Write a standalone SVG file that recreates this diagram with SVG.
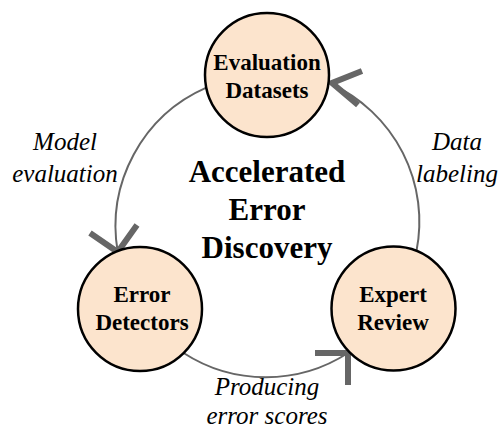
<svg xmlns="http://www.w3.org/2000/svg" width="500" height="428" viewBox="0 0 500 428">
<style>
.node circle{fill:#fce4cd;stroke:#000;stroke-width:2.5}
text{font-family:"Liberation Serif","Times New Roman",serif;fill:#000;text-anchor:middle}
.lbl{font-weight:bold;font-size:23px}
.title{font-weight:bold;font-size:31px}
.edge{font-style:italic;font-size:25px}
.arc{fill:none;stroke:#666;stroke-width:2}
.head{fill:none;stroke:#666;stroke-width:6;stroke-linejoin:miter;stroke-linecap:butt}
</style>
<rect width="500" height="428" fill="#fff"/>
<g id="connectors">
<path class="arc" d="M206.3,87.7 A151.5,151.5 0 0 0 117.7,251.9"/>
<polyline class="head" points="90,233 117.7,252 137,225"/>
<path class="arc" d="M183.6,353 A151.5,151.5 0 0 0 348,353"/>
<polyline class="head" points="315,353 348,353 348,385"/>
<path class="arc" d="M416.4,251.5 A151.5,151.5 0 0 0 331,84"/>
<polyline class="head" points="362,71 332,83 358,105"/>
</g>
<g id="evaluation-datasets" class="node">
<circle cx="267" cy="75" r="62"/>
<text class="lbl" x="267" y="70">Evaluation</text>
<text class="lbl" x="267" y="98">Datasets</text>
</g>
<g id="error-detectors" class="node">
<circle cx="140" cy="309" r="62"/>
<text class="lbl" x="142" y="302">Error</text>
<text class="lbl" x="142" y="330">Detectors</text>
</g>
<g id="expert-review" class="node">
<circle cx="393.5" cy="308.5" r="62"/>
<text class="lbl" x="393" y="302">Expert</text>
<text class="lbl" x="393" y="330">Review</text>
</g>
<g id="title">
<text class="title" x="267" y="182">Accelerated</text>
<text class="title" x="267" y="220">Error</text>
<text class="title" x="267" y="258">Discovery</text>
</g>
<g id="edge-labels">
<text class="edge" x="65" y="150">Model</text>
<text class="edge" x="65" y="182">evaluation</text>
<text class="edge" x="457" y="150">Data</text>
<text class="edge" x="457" y="182">labeling</text>
<text class="edge" x="267" y="395">Producing</text>
<text class="edge" x="267" y="424">error scores</text>
</g>
</svg>
